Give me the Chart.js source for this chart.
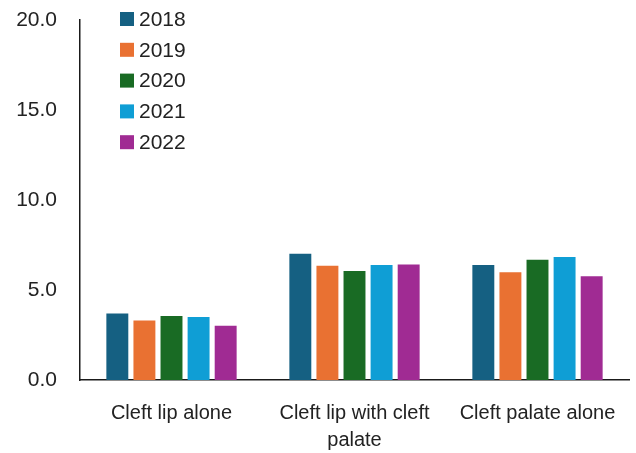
<!DOCTYPE html>
<html>
<head>
<meta charset="utf-8">
<script src="https://cdn.jsdelivr.net/npm/chart.js@4"></script>
<style>
  body { margin: 0; background: #fff; }
  #wrap { width: 636px; height: 453px; }
</style>
</head>
<body>
<div id="wrap"><canvas id="chart"></canvas></div>
<script>
var categories = [["Cleft lip alone"], ["Cleft lip with cleft", "palate"], ["Cleft palate alone"]];
var years = ["2018", "2019", "2020", "2021", "2022"];
var v2018 = [3.69, 7.02, 6.39];
var v2019 = [3.30, 6.35, 5.98];
var v2020 = [3.56, 6.06, 6.68];
var v2021 = [3.50, 6.39, 6.83];
var v2022 = [3.02, 6.42, 5.76];
var colors = ["#156082", "#E97132", "#196B24", "#0F9ED5", "#A02B93"];

var series = [v2018, v2019, v2020, v2021, v2022];
var datasets = [];
for (var i = 0; i < years.length; i++) {
    datasets.push({
        label: years[i],
        data: series[i],
        backgroundColor: colors[i],
        barPercentage: 0.81,
        categoryPercentage: 0.74
    });
}

// legend drawn inside the plot area, top left
var innerLegend = {
    id: 'innerLegend',
    afterDraw: function(chart) {
        var ctx = chart.ctx;
        ctx.save();
        ctx.font = '21px "Liberation Sans"';
        ctx.textBaseline = 'middle';
        chart.data.datasets.forEach(function(ds, i) {
            var y = 19 + i * 30.8;
            ctx.fillStyle = ds.backgroundColor;
            ctx.fillRect(120, y - 7, 14, 14);
            ctx.fillStyle = '#222';
            ctx.fillText(ds.label, 139, y + 1);
        });
        ctx.restore();
    }
};

var chart = new Chart(document.getElementById("chart").getContext('2d'), {
    type: 'bar',
    data: { labels: categories, datasets: datasets },
    options: {
        responsive: true,
        maintainAspectRatio: false,
        animation: false,
        layout: { padding: { top: 20, right: 7 } },
        plugins: { legend: { display: false }, tooltip: { enabled: false } },
        scales: {
            x: {
                grid: { display: false },
                border: { color: '#1a1a1a', width: 1.5 },
                ticks: {
                    color: '#222',
                    font: { family: 'Liberation Sans', size: 20, lineHeight: 1.35 },
                    padding: 12,
                    maxRotation: 0,
                    autoSkip: false
                },
                afterFit: function(scale) { scale.height = 73; }
            },
            y: {
                min: 0,
                max: 20,
                grid: { display: false },
                border: { color: '#1a1a1a', width: 1.5 },
                ticks: {
                    stepSize: 5,
                    color: '#222',
                    font: { family: 'Liberation Sans', size: 21 },
                    padding: 15,
                    callback: function(v) { return v.toFixed(1); }
                },
                afterFit: function(scale) {
                    scale.width = 80;
                    scale.paddingTop = 0;
                    scale.paddingBottom = 0;
                }
            }
        }
    },
    plugins: [innerLegend]
});
</script>
</body>
</html>
